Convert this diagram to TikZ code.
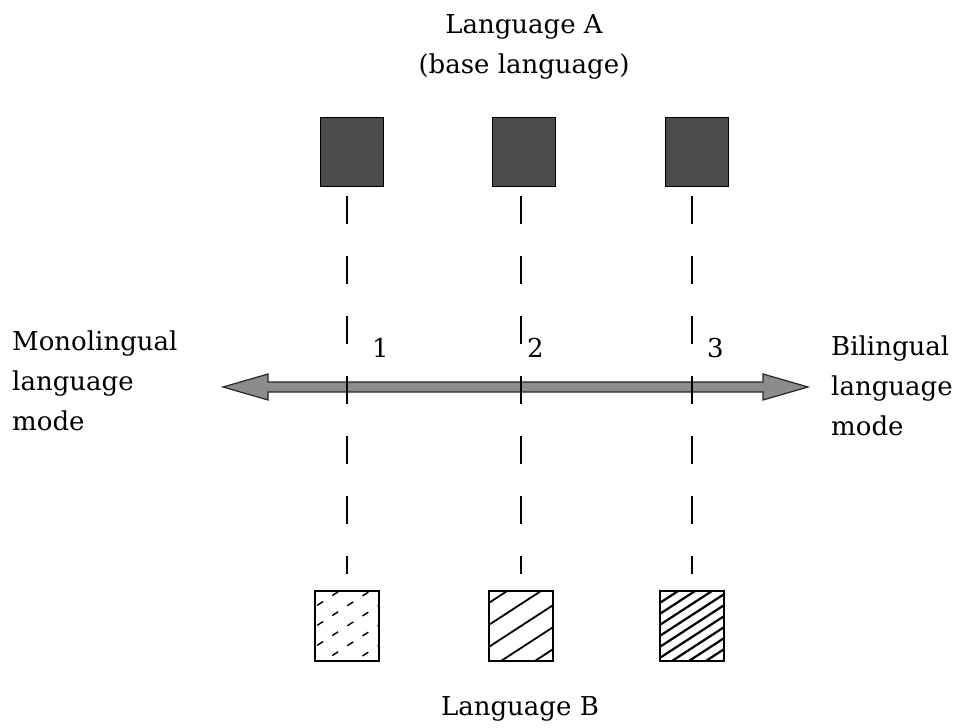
\documentclass[tikz,border=0pt]{standalone}
\usepackage{fontspec}
\setmainfont{DejaVu Serif}
\usetikzlibrary{calc}
\begin{document}
\begin{tikzpicture}[x=1pt,y=-1pt,
  lbl/.style={font=\fontsize{26}{40}\selectfont, inner sep=0pt},
  topsq/.style={draw=black, line width=1.2pt, fill=black!70, minimum width=63pt, minimum height=69pt, inner sep=0pt},
  botsq/.style={draw=black, line width=2.2pt, fill=white, minimum width=64pt, minimum height=70pt, inner sep=0pt},
  dashline/.style={line width=2.2pt, dash pattern=on 28pt off 32pt, shorten <=9pt, shorten >=16pt},
  arrowbody/.style={draw=black!85, line width=1.2pt, fill=black!45, line join=miter},
  hatchsparse/.style={path picture={\foreach \k in {-5,...,5}{\draw[line width=1.4pt, dash pattern=on 7pt off 11pt] ([yshift=\k*20pt]path picture bounding box.center) ++(-60pt,-39pt) -- ++(120pt,78pt);}}},
  hatchmid/.style={path picture={\foreach \k in {-5,...,5}{\draw[line width=1.8pt] ([yshift=\k*22pt]path picture bounding box.center) ++(-60pt,-39pt) -- ++(120pt,78pt);}}},
  hatchdense/.style={path picture={\foreach \k in {-9,...,9}{\draw[line width=2.2pt] ([yshift=\k*11pt]path picture bounding box.center) ++(-60pt,-39pt) -- ++(120pt,78pt);}}}
]
\useasboundingbox (0,0) rectangle (954,728);

% labels (base anchor of a multi-line node = baseline of its last line)
\node[lbl, align=center, anchor=base] (langA) at (524,73) {Language A\\(base language)};
\node[lbl, anchor=base] (langB) at (520,715) {Language B};
\node[lbl, align=left, anchor=base west] (mono) at (12,430) {Monolingual\\language\\mode};
\node[lbl, align=left, anchor=base west] (bi) at (831,435) {Bilingual\\language\\mode};

% squares
\node[topsq] (top1) at (352,152) {};
\node[topsq] (top2) at (524,152) {};
\node[topsq] (top3) at (697,152) {};
\node[botsq, hatchsparse] (bot1) at (347,626) {};
\node[botsq, hatchmid] (bot2) at (521,626) {};
\node[botsq, hatchdense] (bot3) at (692,626) {};

% double arrow
\coordinate (L) at (223,387);
\coordinate (R) at (808,387);
\draw[arrowbody] (L) -- ($(L)+(45,-13)$) -- ($(L)+(45,-5)$) -- ($(R)+(-45,-5)$) -- ($(R)+(-45,-13)$) -- (R)
  -- ($(R)+(-45,13)$) -- ($(R)+(-45,5)$) -- ($(L)+(45,5)$) -- ($(L)+(45,13)$) -- cycle;

% dashed connectors
\draw[dashline] (bot1.north |- top1.south) -- (bot1.north);
\draw[dashline] (bot2.north |- top2.south) -- (bot2.north);
\draw[dashline] (bot3.north |- top3.south) -- (bot3.north);

% numbers
\node[lbl, anchor=base west] (n1) at (372,357) {1};
\node[lbl, anchor=base west] (n2) at (527,357) {2};
\node[lbl, anchor=base west] (n3) at (707,357) {3};
\end{tikzpicture}
\end{document}
